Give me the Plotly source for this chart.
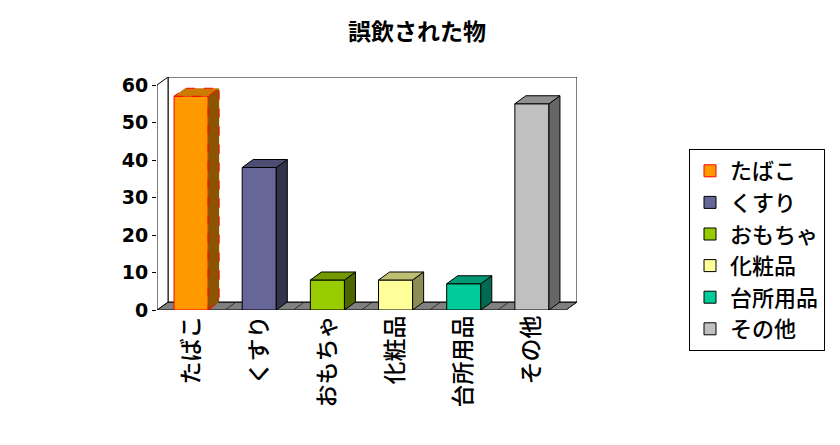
import plotly.graph_objects as go

# data
cats = ["たばこ", "くすり", "おもちゃ", "化粧品", "台所用品", "その他"]
counts = [57, 38, 8, 8, 7, 55]

front_colors = ["#FF9900", "#666699", "#99CC00", "#FFFF99", "#00CC99", "#C0C0C0"]
top_colors = ["#CC7A00", "#4D4D73", "#739900", "#BFBF73", "#009973", "#909090"]
side_colors = ["#8C5400", "#33334D", "#4D6600", "#8C8C54", "#006B50", "#666666"]
edge_colors = ["#FF0000", "#000000", "#000000", "#000000", "#000000", "#000000"]

JP = "Noto Sans CJK JP"

# fake 3d geometry (depth offset in axis units)
bw = 0.5
dx = 11 / 68
dy = 8 / 3.75
ymax = 60
xlo, xhi = -0.5, len(cats) - 0.5

fig = go.Figure()

for i, (c, v) in enumerate(zip(cats, counts)):
    fig.add_trace(go.Bar(
        x=[i], y=[v], width=bw, name=c,
        marker=dict(color=front_colors[i], line=dict(color=edge_colors[i], width=1)),
    ))

for i, v in enumerate(counts):
    l, r = i - bw / 2, i + bw / 2
    ec = edge_colors[i]
    # right side face
    fig.add_trace(go.Scatter(
        x=[r, r + dx, r + dx, r, r], y=[0, dy, v + dy, v, 0],
        fill="toself", fillcolor=side_colors[i], mode="lines",
        line=dict(color=ec, width=1, dash="dash" if i == 0 else "solid"),
        showlegend=False, hoverinfo="skip"))
    # top face
    fig.add_trace(go.Scatter(
        x=[l, r, r + dx, l + dx, l], y=[v, v, v + dy, v + dy, v],
        fill="toself", fillcolor=top_colors[i], mode="lines",
        line=dict(color=ec, width=1, dash="dash" if i == 0 else "solid"),
        showlegend=False, hoverinfo="skip"))

shapes = []
# floor
shapes.append(dict(type="path", layer="below", xref="x", yref="y",
                   path=f"M{xlo},0 L{xhi},0 L{xhi + dx},{dy} L{xlo + dx},{dy} Z",
                   fillcolor="#808080", line=dict(color="#000000", width=1)))
for k in range(len(cats) + 1):
    x0 = xlo + k
    shapes.append(dict(type="line", layer="below", xref="x", yref="y",
                       x0=x0, y0=0, x1=x0 + dx, y1=dy,
                       line=dict(color="#333333", width=1)))
# back wall
shapes.append(dict(type="rect", layer="below", xref="x", yref="y",
                   x0=xlo + dx, y0=dy, x1=xhi + dx, y1=ymax + dy,
                   fillcolor="#FFFFFF", line=dict(color="#000000", width=1)))
# left wall / axis line
shapes.append(dict(type="path", layer="below", xref="x", yref="y",
                   path=f"M{xlo},0 L{xlo},{ymax} L{xlo + dx},{ymax + dy} L{xlo + dx},{dy} Z",
                   fillcolor="#FFFFFF", line=dict(color="#000000", width=1)))

# page has an 8px body margin, so everything is placed 8px up/left
fig.update_layout(
    width=840, height=445, autosize=False,
    margin=dict(l=149, r=271, t=69, b=143),
    paper_bgcolor="white", plot_bgcolor="white",
    barmode="overlay",
    shapes=shapes,
    title=dict(text="<b>誤飲された物</b>", x=409 / 840, xref="container", xanchor="center",
               y=1 - 24 / 445, yref="container", yanchor="middle",
               font=dict(family=JP, size=23, color="#000000")),
    xaxis=dict(range=[xlo, xhi + dx], tickvals=list(range(len(cats))), ticktext=cats,
               tickangle=-90, showgrid=False, zeroline=False, showline=False, ticks="",
               tickfont=dict(family=JP, size=23, color="#000000", weight=500)),
    yaxis=dict(range=[0, ymax + dy], tickvals=[0, 10, 20, 30, 40, 50, 60],
               showgrid=False, zeroline=False, showline=False,
               ticks="outside", ticklen=4, tickcolor="#000000",
               tickfont=dict(family="DejaVu Sans", size=19, color="#000000", weight="bold")),
    legend=dict(x=(689 - 157) / 420, y=(310 - 149) / 233, xanchor="left", yanchor="top",
                bordercolor="#000000", borderwidth=1, bgcolor="white",
                traceorder="normal",
                font=dict(family=JP, size=22, color="#000000", weight=500)),
    showlegend=True,
)

fig.write_html("out.html")
